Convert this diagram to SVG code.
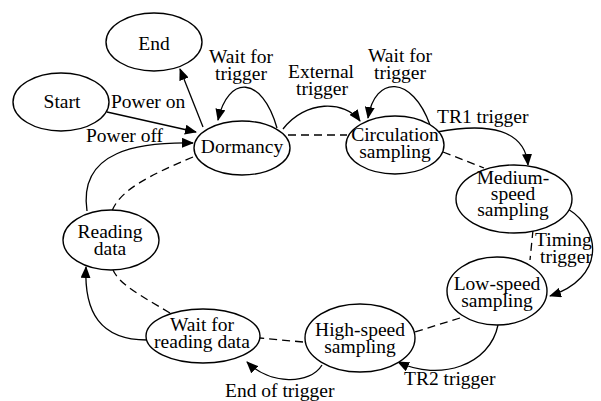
<svg xmlns="http://www.w3.org/2000/svg" width="601" height="401" viewBox="0 0 601 401">
<style>
.n ellipse{fill:#fff;stroke:#000;stroke-width:1.4}
text{font-family:"Liberation Serif","Times New Roman",serif;font-size:19.5px;fill:#000;text-anchor:middle}
.c path{fill:none;stroke:#000;stroke-width:1.3}
.c .d{stroke-dasharray:8,5}
.c .a{marker-end:url(#ah)}
.l text{text-anchor:start}
</style>
<defs>
<marker id="ah" markerUnits="userSpaceOnUse" markerWidth="12" markerHeight="10" refX="11" refY="5" orient="auto">
<path d="M0,0 L12,5 L0,10 Z" fill="#000"/>
</marker>
</defs>
<rect width="601" height="401" fill="#fff"/>
<g class="c" id="connectors">
<path class="a" d="M107 112 L196 132"/>
<path class="a" d="M203 127 L180 69"/>
<path class="a" d="M277 128 C262 75,228 75,218 120"/>
<path class="a" d="M283 129 C305 100,345 100,360 121"/>
<path class="a" d="M430 125 C412 75,375 75,368 118"/>
<path class="a" d="M437 132 C490 122,525 130,528 165"/>
<path class="a" d="M568 209 C602 230,605 278,550 296"/>
<path class="a" d="M498 325 C490 365,440 382,398 362"/>
<path class="a" d="M322 365 C310 385,270 385,247 362"/>
<path class="a" d="M147 340 C100 340,84 312,86 267"/>
<path class="a" d="M87 211 C78 150,140 142,193 143"/>
<path class="d" d="M288 135 L347 135"/>
<path class="d" d="M443 152 L484 168"/>
<path class="d" d="M533 230 L530 260"/>
<path class="d" d="M460 318 L415 332"/>
<path class="d" d="M303 342 L260 338"/>
<path class="d" d="M170 313 C140 295,120 285,113 270"/>
<path class="d" d="M193 157 C150 175,120 190,112 211"/>
</g>
<g class="n" id="end"><ellipse cx="154" cy="42" rx="48" ry="29"/><text x="154" y="50">End</text></g>
<g class="n" id="start"><ellipse cx="61" cy="102" rx="48" ry="29"/><text x="62" y="108">Start</text></g>
<g class="n" id="dormancy"><ellipse cx="242" cy="148" rx="48" ry="27"/><text x="242" y="153">Dormancy</text></g>
<g class="n" id="circulation"><ellipse cx="395" cy="145" rx="49" ry="29"/><text x="395" y="141">Circulation</text><text x="395" y="158">sampling</text></g>
<g class="n" id="medium"><ellipse cx="514" cy="199" rx="58" ry="34"/><text x="513" y="184">Medium-</text><text x="513" y="200">speed</text><text x="513" y="216">sampling</text></g>
<g class="n" id="low"><ellipse cx="497" cy="291" rx="50" ry="34"/><text x="497" y="290">Low-speed</text><text x="497" y="307">sampling</text></g>
<g class="n" id="high"><ellipse cx="360" cy="338" rx="55" ry="34"/><text x="360" y="336">High-speed</text><text x="360" y="353">sampling</text></g>
<g class="n" id="waitread"><ellipse cx="203" cy="336" rx="57" ry="27"/><text x="202" y="331">Wait for</text><text x="202" y="348">reading data</text></g>
<g class="n" id="reading"><ellipse cx="111" cy="240" rx="48" ry="30"/><text x="110" y="238">Reading</text><text x="110" y="255">data</text></g>
<g class="l" id="labels">
<text x="111" y="108">Power on</text>
<text x="86" y="142">Power off</text>
<text x="241" y="63" style="text-anchor:middle">Wait for</text>
<text x="241" y="80" style="text-anchor:middle">trigger</text>
<text x="321" y="78" style="text-anchor:middle">External</text>
<text x="322" y="95" style="text-anchor:middle">trigger</text>
<text x="400" y="62" style="text-anchor:middle">Wait for</text>
<text x="400" y="79" style="text-anchor:middle">trigger</text>
<text x="437" y="123">TR1 trigger</text>
<text x="535" y="246">Timing</text>
<text x="540" y="263">trigger</text>
<text x="404" y="385">TR2 trigger</text>
<text x="225" y="397">End of trigger</text>
</g>
</svg>
